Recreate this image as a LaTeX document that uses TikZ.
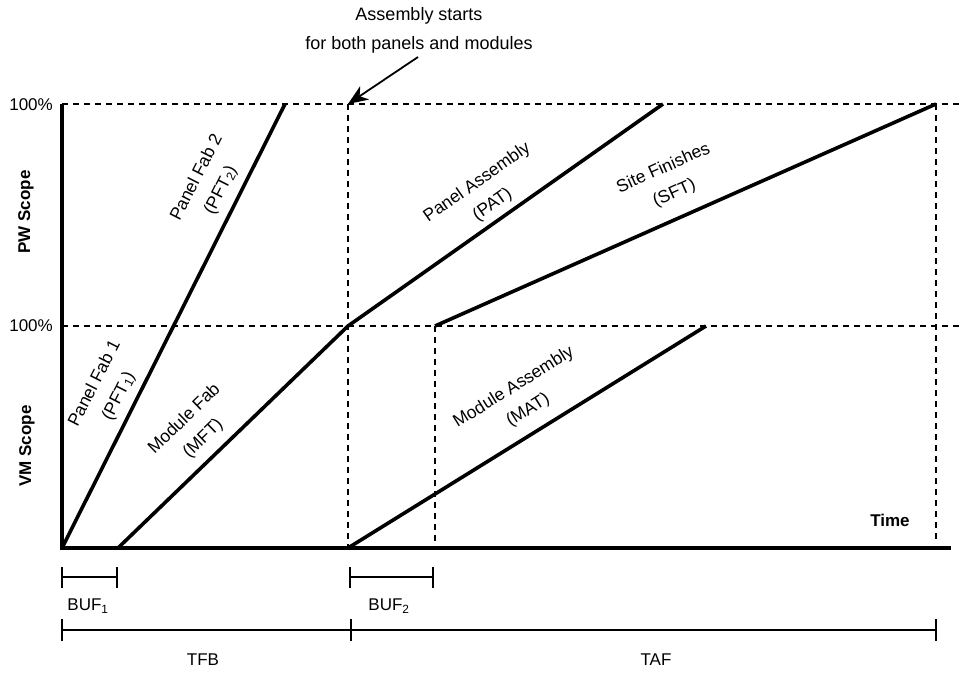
\documentclass[tikz,border=0pt]{standalone}
\usepackage{fontspec}
\setmainfont{Liberation Sans}
\usetikzlibrary{arrows.meta}
\begin{document}
\begin{tikzpicture}[x=1pt,y=-1pt,
  axisline/.style={line width=4pt},
  activity/.style={line width=3.6pt},
  guide/.style={line width=1.8pt, dash pattern=on 6pt off 5pt},
  dim/.style={line width=1.6pt},
  txt/.style={font=\fontsize{17}{27}\selectfont, align=center, inner sep=0pt},
  slanted/.style={font=\fontsize{17.5}{27}\selectfont, align=center, inner sep=0pt},
  axlabel/.style={font=\fontsize{17}{20}\selectfont\bfseries, inner sep=0pt},
  note/.style={font=\fontsize{18}{29}\selectfont, align=center, inner sep=0pt}
]
\useasboundingbox (0,0) rectangle (959,675);

% key points of the time/scope chart
\coordinate (O)     at (62,548);
\coordinate (Ytop)  at (62,104);
\coordinate (Ymid)  at (62,326);
\coordinate (Xend)  at (951,548);
\coordinate (Rtop)  at (959,104);
\coordinate (Rmid)  at (959,326);
\coordinate (PFend) at (285,104);
\coordinate (MFst)  at (118,548);
\coordinate (Amid)  at (348,326);
\coordinate (Atop)  at (348,104);
\coordinate (Abot)  at (348,548);
\coordinate (PAend) at (663,104);
\coordinate (SFst)  at (435,326);
\coordinate (SFbot) at (435,543);
\coordinate (SFend) at (936,104);
\coordinate (Ebot)  at (936,540);
\coordinate (MAend) at (706,326);

% guide lines
\draw[guide] (Ytop) -- (Rtop);
\draw[guide] (Ymid) -- (Rmid);
\draw[guide] (Atop) -- (Abot);
\draw[guide] (SFst) -- (SFbot);
\draw[guide] (SFend) -- (Ebot);

% axes
\draw[axisline] (Ytop) -- (O) -- (Xend);

% activity lines
\draw[activity] (O) -- (PFend);
\draw[activity] (MFst) -- (Amid);
\draw[activity] (Amid) -- (PAend);
\draw[activity] (SFst) -- (SFend);
\draw[activity] (Abot) -- (MAend);

% axis labels
\node[txt, anchor=east] (p100a) at (53,105) {100\%};
\node[txt, anchor=east] (p100b) at (53,326) {100\%};
\node[axlabel, rotate=90] (pw) at (26,212) {PW Scope};
\node[axlabel, rotate=90] (vm) at (27,446) {VM Scope};
\node[axlabel] (time) at (890,520) {Time};

% activity labels
\node[slanted, rotate=63] (pf2) at (209,184) {Panel Fab 2\\(PFT\textsubscript{2})};
\node[slanted, rotate=63] (pf1) at (107,390) {Panel Fab 1\\(PFT\textsubscript{1})};
\node[slanted, rotate=44] (mf) at (194,429) {Module Fab\\(MFT)};
\node[slanted, rotate=35] (pa) at (485,194) {Panel Assembly\\(PAT)};
\node[slanted, rotate=24] (sf) at (669,181) {Site Finishes\\(SFT)};
\node[slanted, rotate=32] (ma) at (521,399) {Module Assembly\\(MAT)};

% annotation
\node[note] (ann) at (419,30) {Assembly starts\\for both panels and modules};
\coordinate (annTail) at (418,57);
\draw[line width=1.8pt, -{Stealth[length=20pt,width=16pt,inset=6pt]}] (annTail) -- (Atop);

% durations below the time axis
\coordinate (b1l) at (62,577);
\coordinate (b1r) at (117,577);
\coordinate (b2l) at (350,577);
\coordinate (b2r) at (433,577);
\coordinate (tl) at (62,630);
\coordinate (tm) at (351,630);
\coordinate (tr) at (936,630);
\draw[dim] (b1l) -- (b1r);
\draw[dim] (b2l) -- (b2r);
\draw[dim] (tl) -- (tm) -- (tr);
\foreach \c in {b1l,b1r,b2l,b2r}
  \draw[dim] ([yshift=-10.5pt]\c) -- ([yshift=10.5pt]\c);
\foreach \c in {tl,tm,tr}
  \draw[dim] ([yshift=-11pt]\c) -- ([yshift=11pt]\c);

\node[txt] (buf1) at (88,606) {BUF\textsubscript{1}};
\node[txt] (buf2) at (389,606) {BUF\textsubscript{2}};
\node[txt] (tfb) at (203,660) {TFB};
\node[txt] (taf) at (656,660) {TAF};
\end{tikzpicture}
\end{document}
